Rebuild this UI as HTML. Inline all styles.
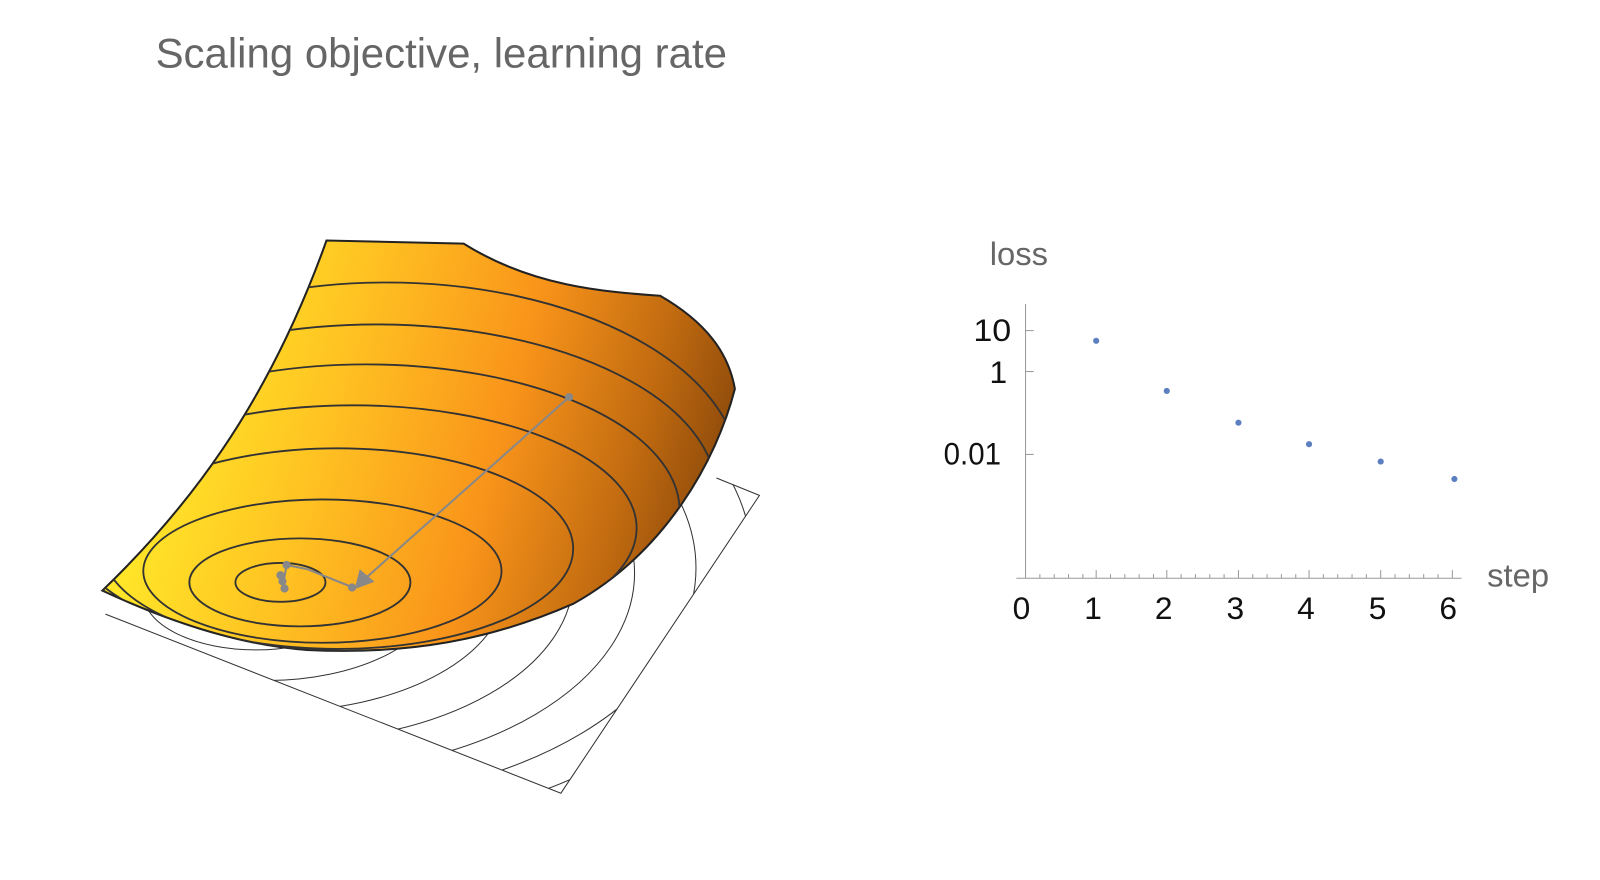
<!DOCTYPE html>
<html><head><meta charset="utf-8"><style>
body{margin:0;background:#fff;}
svg{display:block;font-family:"Liberation Sans",sans-serif;}
</style></head><body>
<svg width="1600" height="880" viewBox="0 0 1600 880">
<defs>
<linearGradient id="g" x1="140" y1="380" x2="720" y2="540" gradientUnits="userSpaceOnUse">
<stop offset="0" stop-color="#ffec2a"/>
<stop offset="0.3" stop-color="#ffc222"/>
<stop offset="0.58" stop-color="#f9941a"/>
<stop offset="0.8" stop-color="#c06a10"/>
<stop offset="1" stop-color="#7a3e08"/>
</linearGradient>
<clipPath id="surf"><path d="M319,235 L453,238 C520,280 590,285 645,289 C690,315 712,345 718,380 C700,450 650,540 560,590 C480,625 400,640 300,635 C230,630 160,605 100,577 C180,500 260,400 319,235 Z"/></clipPath>
<clipPath id="floor"><path d="M103,600 L548,775 L742,484 L690,462 L400,450 L130,585 Z"/></clipPath>
</defs>
<g transform="scale(1.0235)">
<text x="152" y="66" font-size="41" fill="#666">Scaling objective, learning rate</text>
<!-- floor -->
<g fill="none" stroke="#333" stroke-width="1">
<path d="M103,600 L548,775 L742,484 L700,467"/>
<g clip-path="url(#floor)">
<ellipse cx="250" cy="580" rx="110" ry="55"/>
<ellipse cx="260" cy="575" rx="170" ry="90"/>
<ellipse cx="270" cy="570" rx="225" ry="125"/>
<ellipse cx="280" cy="565" rx="280" ry="160"/>
<ellipse cx="290" cy="560" rx="330" ry="195"/>
<ellipse cx="300" cy="555" rx="380" ry="228"/>
<ellipse cx="310" cy="550" rx="425" ry="260"/>
<ellipse cx="320" cy="545" rx="468" ry="290"/>
<ellipse cx="330" cy="540" rx="510" ry="320"/>
</g>
</g>
<!-- surface -->
<path d="M319,235 L453,238 C520,280 590,285 645,289 C690,315 712,345 718,380 C700,450 650,540 560,590 C480,625 400,640 300,635 C230,630 160,605 100,577 C180,500 260,400 319,235 Z" fill="url(#g)" stroke="#222" stroke-width="2"/>
<g clip-path="url(#surf)" fill="none" stroke="#333" stroke-width="1.8">
<ellipse cx="274" cy="569" rx="44" ry="19"/>
<ellipse cx="293" cy="569" rx="108" ry="43"/>
<ellipse cx="315" cy="558" rx="175" ry="70"/>
<ellipse cx="330" cy="536" rx="230" ry="98"/>
<ellipse cx="345" cy="516" rx="277" ry="120"/>
<ellipse cx="358" cy="499" rx="306" ry="143"/>
<ellipse cx="368" cy="482" rx="332" ry="165"/>
<ellipse cx="378" cy="465" rx="345" ry="189"/>
</g>
<!-- path -->
<g stroke="#888" stroke-width="2" fill="#888">
<line x1="556" y1="388" x2="356" y2="566"/>
<polygon points="348,574 352,558 364,568"/>
<line x1="345" y1="574" x2="300" y2="556"/>
<line x1="300" y1="556" x2="280" y2="552"/>
<circle cx="556" cy="388" r="3"/>
<circle cx="344" cy="574" r="3"/>
<circle cx="280" cy="552" r="3"/>
<circle cx="274" cy="562" r="3"/>
<circle cx="276" cy="568" r="3"/>
<circle cx="278" cy="575" r="3"/>
<line x1="280" y1="552" x2="276" y2="575"/>
</g>
<!-- right chart -->
<text x="967" y="259" font-size="32" fill="#666">loss</text>
<g stroke="#999" stroke-width="1" fill="none">
<line x1="1002" y1="297" x2="1002" y2="565"/>
<line x1="993" y1="565" x2="1428" y2="565"/>
<line x1="1002" y1="323" x2="1010" y2="323"/>
<line x1="1002" y1="363" x2="1010" y2="363"/>
<line x1="1002" y1="444" x2="1010" y2="444"/>
</g>
<g stroke="#999" stroke-width="1">
<line x1="1071" y1="557" x2="1071" y2="565"/><line x1="1140" y1="557" x2="1140" y2="565"/><line x1="1210" y1="557" x2="1210" y2="565"/><line x1="1279" y1="557" x2="1279" y2="565"/><line x1="1349" y1="557" x2="1349" y2="565"/><line x1="1419" y1="557" x2="1419" y2="565"/>
<path d="M1016,561V565M1030,561V565M1044,561V565M1058,561V565M1085,561V565M1099,561V565M1113,561V565M1127,561V565M1154,561V565M1168,561V565M1182,561V565M1196,561V565M1224,561V565M1238,561V565M1252,561V565M1266,561V565M1293,561V565M1307,561V565M1321,561V565M1335,561V565M1363,561V565M1377,561V565M1391,561V565M1405,561V565"/>
</g>
<g font-size="31" fill="#111" text-anchor="end">
<text x="988" y="333" textLength="37" lengthAdjust="spacingAndGlyphs">10</text>
<text x="984" y="374">1</text>
<text x="978" y="454" textLength="56" lengthAdjust="spacingAndGlyphs">0.01</text>
</g>
<g font-size="31" fill="#111" text-anchor="middle">
<text x="998" y="605">0</text><text x="1068" y="605">1</text><text x="1137" y="605">2</text><text x="1207" y="605">3</text><text x="1276" y="605">4</text><text x="1346" y="605">5</text><text x="1415" y="605">6</text>
</g>
<text x="1453" y="573" font-size="32" fill="#666">step</text>
<g fill="#5b7fbf">
<circle cx="1071" cy="333" r="3"/><circle cx="1140" cy="382" r="3"/><circle cx="1210" cy="413" r="3"/><circle cx="1279" cy="434" r="3"/><circle cx="1349" cy="451" r="3"/><circle cx="1421" cy="468" r="3"/>
</g>
</g>
</svg>
</body></html>
